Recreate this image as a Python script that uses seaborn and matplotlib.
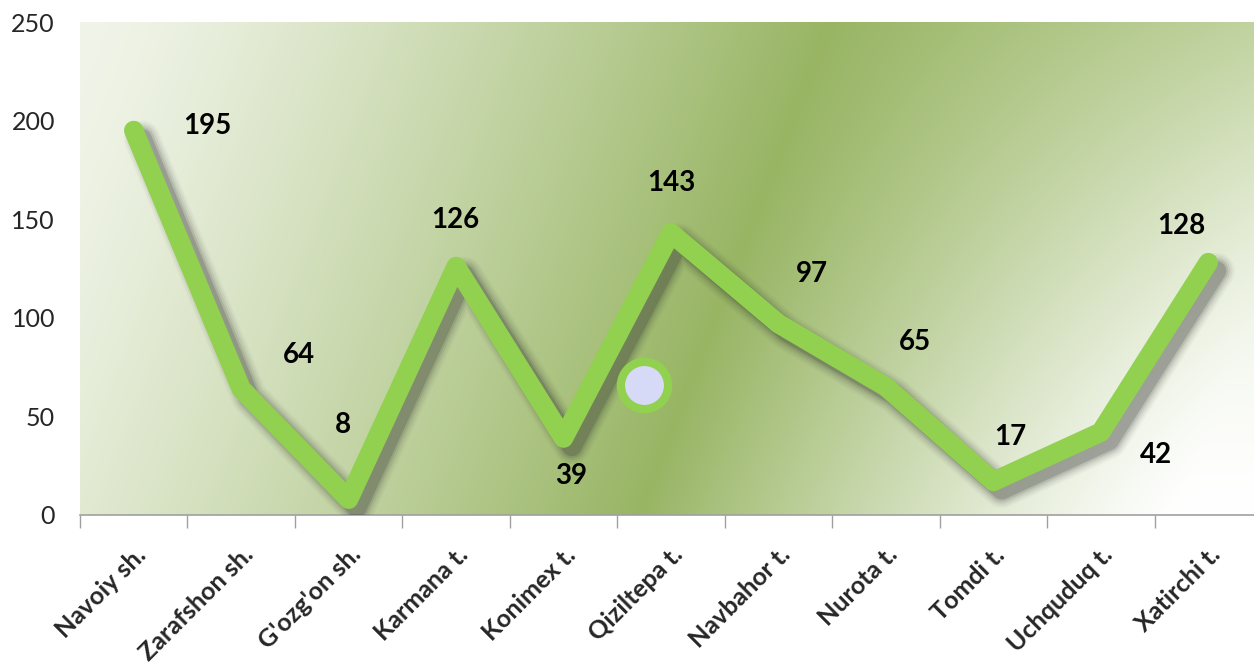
import numpy as np
import pandas as pd
import matplotlib
matplotlib.use("Agg")
import matplotlib.pyplot as plt
import matplotlib.patheffects as pe
from matplotlib.lines import Line2D
import seaborn as sns

categories = ["Navoiy sh.", "Zarafshon sh.", "G'ozg'on sh.", "Karmana t.", "Konimex t.",
              "Qiziltepa t.", "Navbahor t.", "Nurota t.", "Tomdi t.", "Uchquduq t.", "Xatirchi t."]
values = [195, 64, 8, 126, 39, 143, 97, 65, 17, 42, 128]
y_ticks = [0, 50, 100, 150, 200, 250]

# label offsets in pixels (style only)
label_dx = [74, 58, -6, -1, 8, 0, 33, 29, 17, 55, -27]
label_dy = [4, 34, 74, 47, -38, 50, 50, 45, 44, -23, 37]

sns.set_theme(style="white")
plt.rcParams['font.family'] = ['Lato', 'DejaVu Sans']

W, H = 1254, 666
fig = plt.figure(figsize=(W / 100, H / 100), dpi=100)
left_px, right_px, top_px, bot_px = 80, 1262, 22, 515
ax = fig.add_axes([left_px / W, 1 - bot_px / H, (right_px - left_px) / W, (bot_px - top_px) / H])

# gradient background
nx, ny = 400, 200
u = np.linspace(0, 1, nx)
v = np.linspace(0, 1, ny)
U, V = np.meshgrid(u, v)
px = left_px + U * (right_px - left_px)
xb = 640 + V * 190
d = px - xb
s = np.where(d < 0, np.clip(-d / 720, 0, 1), np.clip(d / 540, 0, 1))
w = (1 - s) ** 1.2
dark = np.array([0x98, 0xB5, 0x64]) / 255
light_l = np.array([0xF0, 0xF4, 0xE8]) / 255
light_r = np.array([0xFF, 0xFF, 0xFF]) / 255
light_r_top = np.array([0xC8, 0xD8, 0xAA]) / 255
lr = light_r[None, None, :] * (1 - V[..., None] ** 1.5) + light_r_top[None, None, :] * (V[..., None] ** 1.5)
light = np.where((d < 0)[..., None], light_l[None, None, :], lr)
img = light + (dark - light) * w[..., None]
ax.imshow(img, origin="lower", extent=[-0.5, 10.5, 0, 250], aspect="auto", zorder=0,
          interpolation="bilinear")

df = pd.DataFrame({"pos": np.arange(len(categories)), "value": values, "cat": categories})
sns.lineplot(data=df, x="pos", y="value", ax=ax, color="#92D050", linewidth=14,
             solid_capstyle="round", solid_joinstyle="round", zorder=3)
line = ax.lines[-1]
effects = []
for lw_add, a in [(12, 0.04), (9, 0.06), (6, 0.08), (3, 0.12), (0, 0.2)]:
    effects.append(pe.SimpleLineShadow(offset=(6, -6), shadow_color="#303030", alpha=a,
                                       linewidth=14 + lw_add))
effects.append(pe.Normal())
line.set_path_effects(effects)

for i, val in enumerate(values):
    ax.annotate(str(val), (i, val), xytext=(label_dx[i], label_dy[i]), textcoords="offset pixels",
                ha="center", va="center", fontsize=20, fontweight="bold", color="black", zorder=5)

ax.set_xlim(-0.5, 10.5)
ax.set_ylim(0, 250)
ax.set_yticks(y_ticks)
ax.set_yticklabels([str(t) for t in y_ticks], fontsize=18)
ax.set_xticks(np.arange(len(categories)))
ax.set_xticklabels(categories, rotation=45, ha="right", rotation_mode="anchor",
                   fontsize=18, fontweight="bold")
ax.set_xticks(np.arange(-0.5, 10.6, 1), minor=True)
ax.tick_params(axis="x", which="major", length=0, pad=20)
ax.tick_params(axis="x", which="minor", length=9, width=1, color="#A0A0A0", bottom=True)
ax.tick_params(axis="y", length=0, pad=18)
ax.set_xlabel("")
ax.set_ylabel("")
for sp in ["top", "right", "left"]:
    ax.spines[sp].set_visible(False)
ax.spines["bottom"].set_color("#A0A0A0")
ax.spines["bottom"].set_linewidth(1.2)
ax.grid(False)

handle = Line2D([], [], linestyle="none", marker="o", markersize=34,
                markerfacecolor="#D6DAF7", markeredgecolor="#92D050", markeredgewidth=6)
leg = ax.legend(handles=[handle], labels=[""], loc="center", bbox_to_anchor=(0.477, 0.26),
                frameon=False, handlelength=1, handletextpad=0, borderpad=0, borderaxespad=0)

fig.savefig("out.png", dpi=100)
